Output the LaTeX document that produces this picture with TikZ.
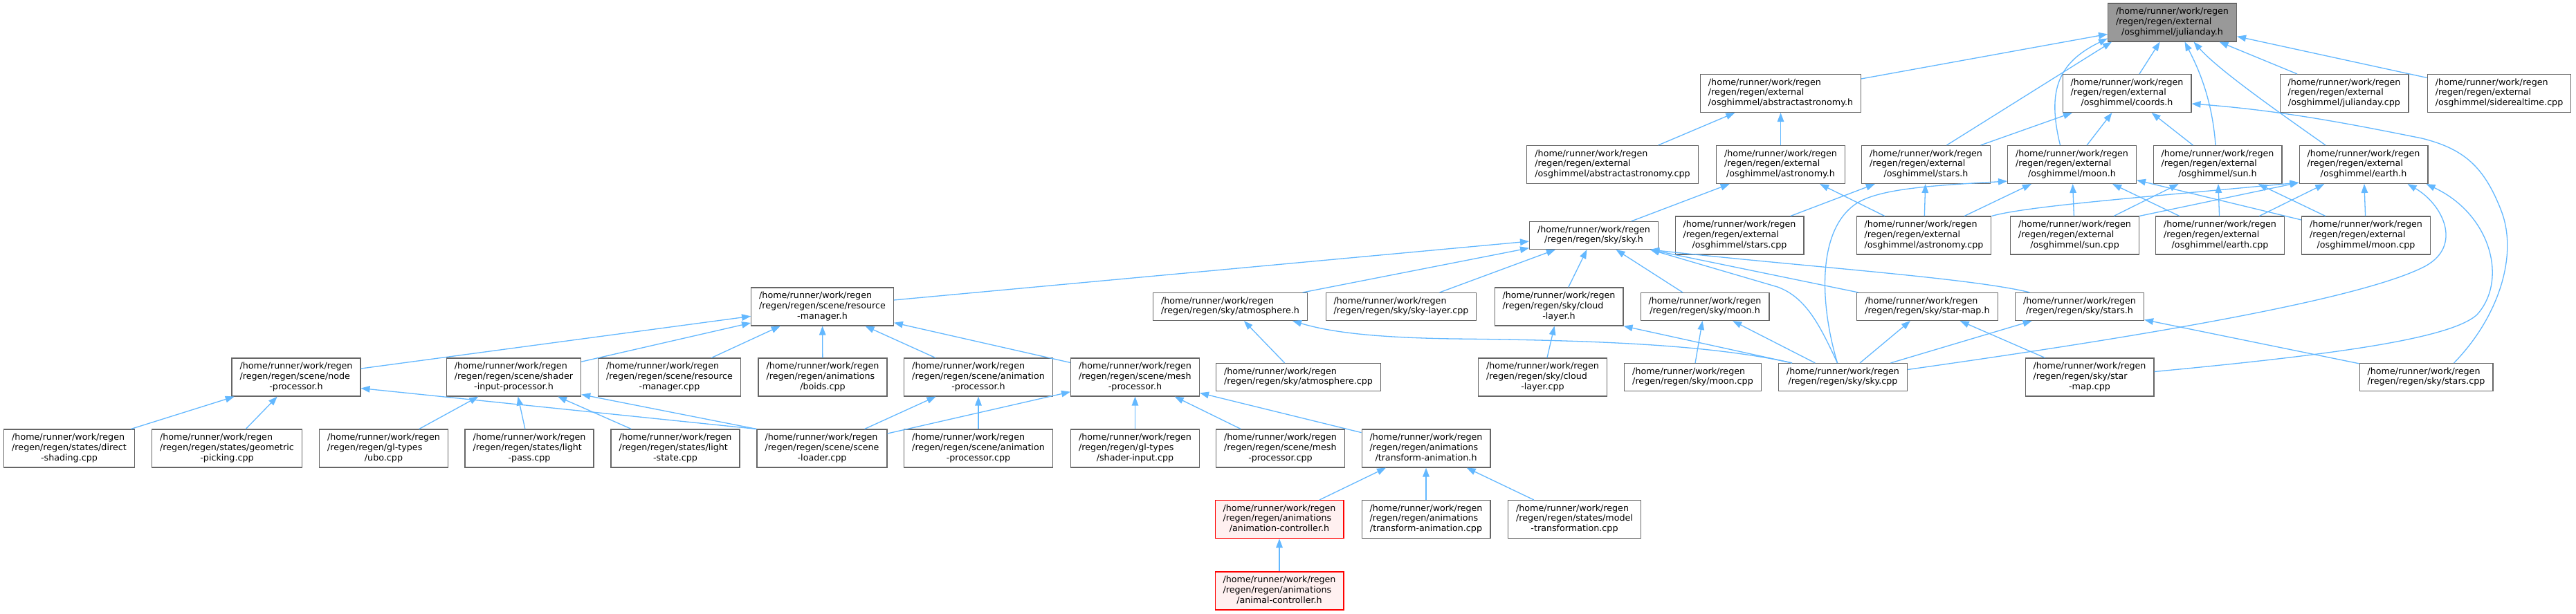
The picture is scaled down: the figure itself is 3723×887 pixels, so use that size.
\documentclass[tikz,border=0pt]{standalone}
\usepackage{fontspec}
\setmainfont{DejaVu Sans}
\usetikzlibrary{arrows.meta}
\definecolor{edgeblue}{HTML}{63B8FF}
\definecolor{boxgrey}{HTML}{666666}
\definecolor{mainfill}{HTML}{999999}
\definecolor{truncfill}{HTML}{FFF0F0}
\newcommand{\fthree}[2]{\begin{tabular}{@{}l@{}}/home/runner/work/regen\\#1\\\multicolumn{1}{@{}c@{}}{#2}\end{tabular}}
\newcommand{\ftwo}[1]{\begin{tabular}{@{}l@{}}/home/runner/work/regen\\\multicolumn{1}{@{}c@{}}{#1}\end{tabular}}

\begin{document}
\begin{tikzpicture}[x=1pt, y=-1pt,
    srcfile/.style={draw=boxgrey, fill=white, line width=1.1pt, inner xsep=11.5pt, inner ysep=0pt,
      minimum height=55pt, font=\fontsize{12.7}{14.8}\selectfont},
    twoline/.style={minimum height=40pt},
    mainfile/.style={fill=mainfill},
    truncfile/.style={draw=red, fill=truncfill},
    dep/.style={draw=edgeblue, line width=1.3pt, -{Triangle[length=13pt, width=9.5pt]}}]
    \path[fill=white, use as bounding box] (0,0) rectangle (3723,887);
    % rank 1
    \node[srcfile, mainfile] (jday_h) at (3139.5,32.5) {\fthree{/regen/regen/external}{/osghimmel/julianday.h}};
    % rank 2
    \node[srcfile] (absastro_h) at (2573.5,135) {\fthree{/regen/regen/external}{/osghimmel/abstractastronomy.h}};
    \node[srcfile] (coords_h) at (3074,135) {\fthree{/regen/regen/external}{/osghimmel/coords.h}};
    \node[srcfile] (jday_cpp) at (3388,135) {\fthree{/regen/regen/external}{/osghimmel/julianday.cpp}};
    \node[srcfile] (sidereal_cpp) at (3612,135) {\fthree{/regen/regen/external}{/osghimmel/siderealtime.cpp}};
    % rank 3
    \node[srcfile] (absastro_cpp) at (2330.5,238) {\fthree{/regen/regen/external}{/osghimmel/abstractastronomy.cpp}};
    \node[srcfile] (astro_h) at (2573.5,238) {\fthree{/regen/regen/external}{/osghimmel/astronomy.h}};
    \node[srcfile] (xstars_h) at (2783.5,238) {\fthree{/regen/regen/external}{/osghimmel/stars.h}};
    \node[srcfile] (xmoon_h) at (2994.5,238) {\fthree{/regen/regen/external}{/osghimmel/moon.h}};
    \node[srcfile] (xsun_h) at (3205,238) {\fthree{/regen/regen/external}{/osghimmel/sun.h}};
    \node[srcfile] (xearth_h) at (3416,238) {\fthree{/regen/regen/external}{/osghimmel/earth.h}};
    % rank 4
    \node[srcfile, twoline] (sky_h) at (2303.5,340.5) {\ftwo{/regen/regen/sky/sky.h}};
    \node[srcfile] (xstars_cpp) at (2514,340.5) {\fthree{/regen/regen/external}{/osghimmel/stars.cpp}};
    \node[srcfile] (astro_cpp) at (2780.5,340.5) {\fthree{/regen/regen/external}{/osghimmel/astronomy.cpp}};
    \node[srcfile] (xsun_cpp) at (2998.5,340.5) {\fthree{/regen/regen/external}{/osghimmel/sun.cpp}};
    \node[srcfile] (xearth_cpp) at (3208.5,340.5) {\fthree{/regen/regen/external}{/osghimmel/earth.cpp}};
    \node[srcfile] (xmoon_cpp) at (3419.5,340.5) {\fthree{/regen/regen/external}{/osghimmel/moon.cpp}};
    % rank 5
    \node[srcfile] (resmgr_h) at (1188.5,443.5) {\fthree{/regen/regen/scene/resource}{-manager.h}};
    \node[srcfile, twoline] (atmo_h) at (1778,443.5) {\ftwo{/regen/regen/sky/atmosphere.h}};
    \node[srcfile, twoline] (skylayer_cpp) at (2025,443.5) {\ftwo{/regen/regen/sky/sky-layer.cpp}};
    \node[srcfile] (cloud_h) at (2253,443.5) {\fthree{/regen/regen/sky/cloud}{-layer.h}};
    \node[srcfile, twoline] (moon_h) at (2464,443.5) {\ftwo{/regen/regen/sky/moon.h}};
    \node[srcfile, twoline] (starmap_h) at (2785.5,443.5) {\ftwo{/regen/regen/sky/star-map.h}};
    \node[srcfile, twoline] (stars_h) at (3005.5,443.5) {\ftwo{/regen/regen/sky/stars.h}};
    % rank 6
    \node[srcfile] (nodeproc_h) at (428,545.5) {\fthree{/regen/regen/scene/node}{-processor.h}};
    \node[srcfile] (sip_h) at (742.5,545.5) {\fthree{/regen/regen/scene/shader}{-input-processor.h}};
    \node[srcfile] (resmgr_cpp) at (967.5,545.5) {\fthree{/regen/regen/scene/resource}{-manager.cpp}};
    \node[srcfile] (boids_cpp) at (1189,545.5) {\fthree{/regen/regen/animations}{/boids.cpp}};
    \node[srcfile] (animproc_h) at (1414,545.5) {\fthree{/regen/regen/scene/animation}{-processor.h}};
    \node[srcfile] (meshproc_h) at (1640.5,545.5) {\fthree{/regen/regen/scene/mesh}{-processor.h}};
    \node[srcfile, twoline] (atmo_cpp) at (1876.5,545.5) {\ftwo{/regen/regen/sky/atmosphere.cpp}};
    \node[srcfile] (cloud_cpp) at (2229.5,545.5) {\fthree{/regen/regen/sky/cloud}{-layer.cpp}};
    \node[srcfile, twoline] (moon_cpp) at (2446.5,545.5) {\ftwo{/regen/regen/sky/moon.cpp}};
    \node[srcfile, twoline] (sky_cpp) at (2663.5,545.5) {\ftwo{/regen/regen/sky/sky.cpp}};
    \node[srcfile] (starmap_cpp) at (3020,545.5) {\fthree{/regen/regen/sky/star}{-map.cpp}};
    \node[srcfile, twoline] (stars_cpp) at (3506.5,545.5) {\ftwo{/regen/regen/sky/stars.cpp}};
    % rank 7
    \node[srcfile] (dshade_cpp) at (100,648.5) {\fthree{/regen/regen/states/direct}{-shading.cpp}};
    \node[srcfile] (gpick_cpp) at (328,648.5) {\fthree{/regen/regen/states/geometric}{-picking.cpp}};
    \node[srcfile] (ubo_cpp) at (554.5,648.5) {\fthree{/regen/regen/gl-types}{/ubo.cpp}};
    \node[srcfile] (lpass_cpp) at (765,648.5) {\fthree{/regen/regen/states/light}{-pass.cpp}};
    \node[srcfile] (lstate_cpp) at (976,648.5) {\fthree{/regen/regen/states/light}{-state.cpp}};
    \node[srcfile] (sload_cpp) at (1188,648.5) {\fthree{/regen/regen/scene/scene}{-loader.cpp}};
    \node[srcfile] (animproc_cpp) at (1414,648.5) {\fthree{/regen/regen/scene/animation}{-processor.cpp}};
    \node[srcfile] (sinput_cpp) at (1640.5,648.5) {\fthree{/regen/regen/gl-types}{/shader-input.cpp}};
    \node[srcfile] (meshproc_cpp) at (1850.5,648.5) {\fthree{/regen/regen/scene/mesh}{-processor.cpp}};
    \node[srcfile] (tanim_h) at (2061,648.5) {\fthree{/regen/regen/animations}{/transform-animation.h}};
    % rank 8 and 9
    \node[srcfile, truncfile] (animctrl_h) at (1849,751) {\fthree{/regen/regen/animations}{/animation-controller.h}};
    \node[srcfile] (tanim_cpp) at (2061,751) {\fthree{/regen/regen/animations}{/transform-animation.cpp}};
    \node[srcfile] (modeltf_cpp) at (2275.5,751) {\fthree{/regen/regen/states/model}{-transformation.cpp}};
    \node[srcfile, truncfile] (animal_h) at (1849,854.5) {\fthree{/regen/regen/animations}{/animal-controller.h}};

    % straight dependencies
    \foreach \a/\b in {absastro_h/jday_h, coords_h/jday_h, jday_cpp/jday_h, sidereal_cpp/jday_h,
        xstars_h/coords_h, xmoon_h/coords_h, xsun_h/coords_h,
        absastro_cpp/absastro_h, astro_h/absastro_h,
        sky_h/astro_h, astro_cpp/astro_h, xstars_cpp/xstars_h, astro_cpp/xstars_h, astro_cpp/xmoon_h,
        xsun_cpp/xmoon_h, xearth_cpp/xmoon_h, xmoon_cpp/xmoon_h,
        xsun_cpp/xsun_h, xearth_cpp/xsun_h, xmoon_cpp/xsun_h,
        xearth_cpp/xearth_h, xmoon_cpp/xearth_h,
        resmgr_h/sky_h, atmo_h/sky_h, skylayer_cpp/sky_h, cloud_h/sky_h, moon_h/sky_h,
        atmo_cpp/atmo_h, cloud_cpp/cloud_h, moon_cpp/moon_h, sky_cpp/moon_h, sky_cpp/starmap_h, sky_cpp/stars_h,
        starmap_cpp/starmap_h, stars_cpp/stars_h,
        nodeproc_h/resmgr_h, sip_h/resmgr_h, resmgr_cpp/resmgr_h, boids_cpp/resmgr_h, animproc_h/resmgr_h, meshproc_h/resmgr_h,
        dshade_cpp/nodeproc_h, gpick_cpp/nodeproc_h, ubo_cpp/sip_h, lpass_cpp/sip_h, lstate_cpp/sip_h,
        animproc_cpp/animproc_h, sload_cpp/animproc_h, sload_cpp/meshproc_h, sinput_cpp/meshproc_h,
        meshproc_cpp/meshproc_h, tanim_h/meshproc_h,
        animctrl_h/tanim_h, tanim_cpp/tanim_h, modeltf_cpp/tanim_h, animal_h/animctrl_h}
        \draw[dep] (\a) -- (\b);

    % the rest need their own end points
    \draw[dep] ([xshift=30pt]xstars_h.north) -- ([xshift=6pt]jday_h.south west);
    \draw[dep] ([xshift=-17pt]xmoon_h.north) .. controls (2958,130) and (2975,90) .. ([yshift=5pt]jday_h.south west);
    \draw[dep] ([xshift=-3pt]xsun_h.north) .. controls (3197,140) and (3175,95) .. ([xshift=18pt]jday_h.south);
    \draw[dep] ([xshift=-55pt]xearth_h.north) .. controls (3290,160) and (3205,100) .. ([xshift=31pt]jday_h.south);
    \draw[dep] ([xshift=40pt]stars_cpp.north) .. controls (3610,460) and (3640,370) .. (3615,305)
        .. controls (3590,240) and (3560,215) .. (3500,200) .. controls (3400,180) and (3300,160) .. ([yshift=-15pt]coords_h.east);
    \draw[dep] (astro_cpp.north east) .. controls (2930,298) and (3100,285) .. ([yshift=2pt]xearth_h.south west);
    \draw[dep] (xsun_cpp.north east) -- ([yshift=2pt]xearth_h.south west);
    \draw[dep] ([xshift=-8pt]sky_cpp.north) .. controls (2630,440) and (2625,330) .. (2685,293)
        .. controls (2720,272) and (2800,268) .. ([yshift=4pt]xmoon_h.south west);
    \draw[dep] ([yshift=11pt]sky_cpp.east) .. controls (3000,500) and (3400,440) .. (3505,385)
        .. controls (3560,355) and (3530,295) .. ([xshift=-30pt]xearth_h.south east);
    \draw[dep] ([yshift=8pt]starmap_cpp.east) .. controls (3350,515) and (3540,492) .. (3580,455)
        .. controls (3625,405) and (3600,310) .. ([xshift=-3pt]xearth_h.south east);
    \draw[dep] ([xshift=-8pt]sky_cpp.north) .. controls (2630,470) and (2610,430) .. (2569,415)
        -- ([xshift=-12pt]sky_h.south east);
    \draw[dep] ([xshift=-72pt]stars_h.north) .. controls (2850,402) and (2600,385) .. ([xshift=-12pt]sky_h.south east);
    \draw[dep] (starmap_h) -- ([xshift=-12pt]sky_h.south east);
    \draw[dep] ([xshift=20pt]sky_cpp.north west) .. controls (2470,498) and (2300,492) .. (2100,490)
        .. controls (1970,488) and (1915,478) .. ([xshift=-22pt]atmo_h.south east);
    \draw[dep] ([xshift=20pt]sky_cpp.north west) -- (cloud_h.south east);
    \draw[dep] (sload_cpp.north west) -- ([yshift=-16pt]nodeproc_h.east);
    \draw[dep] (sload_cpp.north west) -- ([yshift=3pt]sip_h.south east);
\end{tikzpicture}
\end{document}
